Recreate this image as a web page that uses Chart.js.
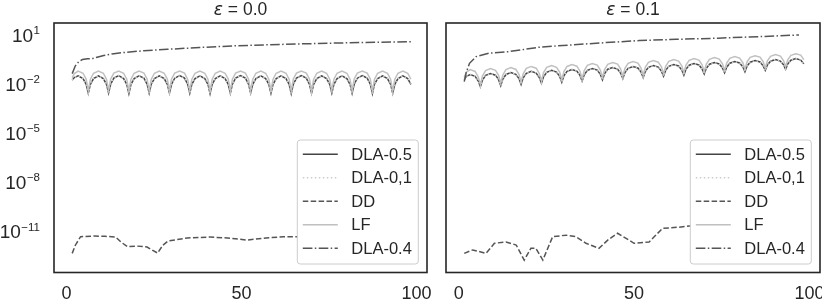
<!DOCTYPE html>
<html><head><meta charset="utf-8">
<script src="https://cdn.jsdelivr.net/npm/chart.js@4/dist/chart.umd.min.js"></script>
<style>
html,body{margin:0;padding:0;background:#fff;}
#wrap{position:relative;width:822px;height:300px;overflow:hidden;background:#fff;}
canvas{position:absolute;top:0;}
</style></head><body>
<div id="wrap">
<canvas id="c1" width="436" height="300" style="left:0;width:436px;height:300px"></canvas>
<canvas id="c2" width="386" height="300" style="left:436px;width:386px;height:300px"></canvas>
</div>
<script>
// ---------- data ----------
const seriesNames = ['DLA-0.5', 'DLA-0,1', 'DD', 'LF', 'DLA-0.4'];
const epsLabels = ['0.0', '0.1'];
const xTicks = [0, 50, 100];
const yTickExps = [1, -2, -5, -8, -11];

const xOsc = [1.6,2.2,3.3,4.7,5.6,
6.2,6.8,7.7,9.1,10.5,11.4,
12.0,12.6,13.5,14.9,16.3,17.2,
17.8,18.4,19.3,20.7,22.1,23.0,
23.6,24.2,25.1,26.5,27.9,28.8,
29.4,30.0,30.9,32.3,33.7,34.6,
35.2,35.8,36.7,38.1,39.5,40.4,
41.0,41.6,42.5,43.9,45.3,46.2,
46.8,47.4,48.3,49.7,51.1,52.0,
52.6,53.2,54.1,55.5,56.9,57.8,
58.4,59.0,59.9,61.3,62.7,63.6,
64.2,64.8,65.7,67.1,68.5,69.4,
70.0,70.6,71.5,72.9,74.3,75.2,
75.8,76.4,77.3,78.7,80.1,81.0,
81.6,82.2,83.1,84.5,85.9,86.8,
87.4,88.0,88.9,90.3,91.7,92.6,
93.2,93.8,94.7,96.1,97.5,98.4];

// eps = 0.0
const dla05L = [0.016,0.023,0.029,0.020,0.0089,
0.0025,0.0088,0.020,0.029,0.020,0.0089,
0.0026,0.0090,0.021,0.030,0.020,0.0088,
0.0024,0.0089,0.020,0.029,0.021,0.0090,
0.0025,0.0090,0.020,0.029,0.020,0.0089,
0.0026,0.0089,0.021,0.030,0.021,0.0090,
0.0025,0.0088,0.020,0.029,0.020,0.0088,
0.0024,0.0089,0.020,0.029,0.020,0.0089,
0.0025,0.0090,0.021,0.030,0.021,0.0090,
0.0026,0.0089,0.020,0.029,0.020,0.0088,
0.0025,0.0088,0.020,0.029,0.020,0.0089,
0.0024,0.0090,0.021,0.030,0.021,0.0090,
0.0025,0.0089,0.020,0.029,0.020,0.0089,
0.0026,0.0088,0.020,0.029,0.020,0.0088,
0.0025,0.0089,0.021,0.030,0.021,0.0090,
0.0024,0.0090,0.020,0.029,0.020,0.0089,
0.0025,0.0089,0.020,0.029,0.020,0.0089];
const dla01L = [0.016,0.023,0.029,0.020,0.0089,
0.0025,0.0088,0.020,0.029,0.020,0.0089,
0.0026,0.0090,0.021,0.030,0.020,0.0088,
0.0024,0.0089,0.020,0.029,0.021,0.0090,
0.0025,0.0090,0.020,0.029,0.020,0.0089,
0.0026,0.0089,0.021,0.030,0.021,0.0090,
0.0025,0.0088,0.020,0.029,0.020,0.0088,
0.0024,0.0089,0.020,0.029,0.020,0.0089,
0.0025,0.0090,0.021,0.030,0.021,0.0090,
0.0026,0.0089,0.020,0.029,0.020,0.0088,
0.0025,0.0088,0.020,0.029,0.020,0.0089,
0.0024,0.0090,0.021,0.030,0.021,0.0090,
0.0025,0.0089,0.020,0.029,0.020,0.0089,
0.0026,0.0088,0.020,0.029,0.020,0.0088,
0.0025,0.0089,0.021,0.030,0.021,0.0090,
0.0024,0.0090,0.020,0.029,0.020,0.0089,
0.0025,0.0089,0.020,0.029,0.020,0.0089];
const lfL = [0.022,0.040,0.057,0.042,0.018,
0.0036,0.018,0.042,0.057,0.042,0.018,
0.0037,0.019,0.043,0.058,0.042,0.018,
0.0035,0.018,0.042,0.057,0.043,0.019,
0.0036,0.018,0.042,0.057,0.042,0.018,
0.0037,0.019,0.043,0.058,0.043,0.018,
0.0036,0.018,0.042,0.057,0.042,0.018,
0.0035,0.018,0.042,0.057,0.042,0.019,
0.0036,0.019,0.043,0.058,0.043,0.018,
0.0037,0.018,0.042,0.057,0.042,0.018,
0.0036,0.018,0.042,0.057,0.042,0.018,
0.0035,0.019,0.043,0.058,0.043,0.019,
0.0036,0.018,0.042,0.057,0.042,0.018,
0.0037,0.018,0.042,0.057,0.042,0.018,
0.0036,0.019,0.043,0.058,0.043,0.019,
0.0035,0.018,0.042,0.057,0.042,0.018,
0.0036,0.018,0.042,0.057,0.042,0.018];
const xLa4L = [1.6,2.5,3.5,4.5,6.0,7.5,9.0,10.6,13.5,16.3,22.0,28.8,38.0,47.8,57.0,66.9,78.0,88.0,98.6];
const la4L  = [0.04,0.12,0.22,0.29,0.32,0.34,0.42,0.52,0.66,0.78,1.0,1.23,1.58,2.0,2.3,2.63,3.0,3.3,3.6];
const xDdL = [1.6,2.5,4.0,8.0,11.0,14.0,15.5,17.4,20.0,23.0,24.5,26.0,27.5,29.0,34.5,41.0,46.0,51.6,57.0,62.0,66.0,75.0,85.0,98.6];
const ddL  = [4.0e-13,1.26e-12,4.2e-12,4.6e-12,4.4e-12,4.0e-12,2.0e-12,1.02e-12,1.12e-12,9.8e-13,6.3e-13,4.2e-13,1.26e-12,2.3e-12,3.5e-12,4.0e-12,3.5e-12,2.6e-12,3.5e-12,4.2e-12,4.2e-12,4.0e-12,4.2e-12,4.0e-12];

// eps = 0.1
const dla05R = [0.017,0.027,0.035,0.027,0.014,
0.0063,0.016,0.031,0.041,0.032,0.017,
0.0074,0.0186,0.0355,0.047,0.036,0.020,
0.0087,0.0219,0.0417,0.055,0.043,0.023,
0.0102,0.0254,0.0479,0.063,0.049,0.027,
0.012,0.0295,0.055,0.072,0.057,0.031,
0.014,0.0343,0.0638,0.083,0.066,0.036,
0.0166,0.0398,0.074,0.095,0.076,0.042,
0.020,0.0468,0.085,0.11,0.088,0.049,
0.023,0.0543,0.0977,0.126,0.10,0.057,
0.0275,0.063,0.112,0.145,0.117,0.066,
0.032,0.0733,0.130,0.166,0.135,0.077,
0.038,0.085,0.150,0.19,0.155,0.089,
0.045,0.099,0.172,0.22,0.178,0.104,
0.052,0.115,0.20,0.25,0.205,0.12,
0.063,0.135,0.229,0.29,0.235,0.14,
0.074,0.157,0.263,0.33,0.27,0.16];
const dla01R = [0.017,0.027,0.035,0.027,0.014,
0.0063,0.016,0.031,0.041,0.032,0.017,
0.0074,0.0186,0.0355,0.047,0.036,0.020,
0.0087,0.0219,0.0417,0.055,0.043,0.023,
0.0102,0.0254,0.0479,0.063,0.049,0.027,
0.012,0.0295,0.055,0.072,0.057,0.031,
0.014,0.0343,0.0638,0.083,0.066,0.036,
0.0166,0.0398,0.074,0.095,0.076,0.042,
0.020,0.0468,0.085,0.11,0.088,0.049,
0.023,0.0543,0.0977,0.126,0.10,0.057,
0.0275,0.063,0.112,0.145,0.117,0.066,
0.032,0.0733,0.130,0.166,0.135,0.077,
0.038,0.085,0.150,0.19,0.155,0.089,
0.045,0.099,0.172,0.22,0.178,0.104,
0.052,0.115,0.20,0.25,0.205,0.12,
0.063,0.135,0.229,0.29,0.235,0.14,
0.074,0.157,0.263,0.33,0.27,0.16];
const lfR = [0.024,0.05,0.07,0.054,0.025,
0.0088,0.029,0.062,0.082,0.064,0.031,
0.0104,0.033,0.071,0.094,0.072,0.036,
0.0122,0.039,0.083,0.11,0.086,0.041,
0.0143,0.046,0.096,0.126,0.098,0.049,
0.0168,0.053,0.11,0.144,0.114,0.056,
0.0196,0.062,0.128,0.166,0.132,0.065,
0.0232,0.072,0.148,0.19,0.152,0.076,
0.028,0.084,0.17,0.22,0.176,0.088,
0.032,0.098,0.195,0.252,0.20,0.103,
0.0385,0.113,0.224,0.29,0.234,0.119,
0.045,0.132,0.26,0.332,0.27,0.139,
0.053,0.153,0.30,0.38,0.31,0.16,
0.063,0.178,0.344,0.44,0.356,0.187,
0.073,0.207,0.40,0.50,0.41,0.216,
0.088,0.243,0.458,0.58,0.47,0.252,
0.104,0.283,0.526,0.66,0.54,0.288];
const xLa4R = [1.6,2.2,3.1,5.0,8.7,14.4,23.0,32.4,42.0,51.5,62.0,74.0,86.0,97.0];
const la4R  = [0.013,0.05,0.17,0.44,0.71,0.89,1.66,2.3,3.16,4.2,5.0,5.9,7.4,9.3];
const xDdR = [1.6,4.0,7.8,10.2,13.5,16.4,18.7,20.6,22.0,24.0,26.8,30.6,33.4,36.3,40.0,42.5,45.3,50.0,54.3,58.1,62.9,65.7,75.0,85.0,98.6];
const ddR  = [4.0e-13,6.5e-13,4.0e-13,1.66e-12,2.0e-12,1.3e-12,1.55e-13,8.1e-13,8.1e-13,1.55e-13,4.2e-12,5.2e-12,4.2e-12,1.66e-12,8.1e-13,2.6e-12,6.8e-12,1.66e-12,2.0e-12,1.35e-11,1.6e-11,1.9e-11,2.0e-11,2.2e-11,2.4e-11];

// ---------- styles ----------
const TXT = '#262626';
const FONT_T = '"Liberation Sans", Arial, sans-serif';
const FONT_M = '"DejaVu Sans", sans-serif';
const styles = [
  {color:'#444444', dash:[], width:1.5},
  {color:'#cccccc', dash:[1.5,2.5], width:1.5},
  {color:'#555555', dash:[5.5,2.4], width:1.5},
  {color:'#c0c0c0', dash:[], width:1.5},
  {color:'#555555', dash:[9.6,2.4,1.5,2.4], width:1.5}
];

function pts(xs, ys){ return xs.map((x,i)=>({x:x, y:ys[i]})); }

function makeDatasets(sets){
  return sets.map((d,i)=>({
    label: seriesNames[i],
    data: d,
    borderColor: styles[i].color,
    borderDash: styles[i].dash,
    borderWidth: styles[i].width,
    pointRadius: 0,
    fill: false,
    tension: 0,
    order: 5 - i
  }));
}

const decoPlugin = {
  id: 'deco',
  afterDraw(chart, args, opts){
    const ctx = chart.ctx, a = chart.chartArea;
    const xs = chart.scales.x, ys = chart.scales.y;
    ctx.save();
    // frame
    ctx.strokeStyle = TXT; ctx.lineWidth = 1.6; ctx.setLineDash([]);
    ctx.strokeRect(a.left, a.top, a.right - a.left, a.bottom - a.top);
    // title
    const cx = (a.left + a.right) / 2;
    ctx.fillStyle = TXT; ctx.textBaseline = 'alphabetic';
    ctx.font = 'italic 17px ' + FONT_M;
    const w1 = ctx.measureText('ε').width;
    ctx.font = '17.5px ' + FONT_T;
    const rest = ' = ' + opts.eps;
    const w2 = ctx.measureText(rest).width;
    const sx = cx - (w1 + w2) / 2;
    ctx.font = 'italic 17px ' + FONT_M; ctx.textAlign = 'left';
    ctx.fillText('ε', sx, 15);
    ctx.font = '17.5px ' + FONT_T;
    ctx.fillText(rest, sx + w1, 15);
    // x tick labels
    ctx.textAlign = 'center'; ctx.font = '18px ' + FONT_T;
    xTicks.forEach(v => ctx.fillText(String(v), xs.getPixelForValue(v), 299));
    // y tick labels
    if (opts.yLabels) {
      yTickExps.forEach(e => {
        const y = ys.getPixelForValue(Math.pow(10, e));
        const expTxt = (e < 0 ? '\u2212' : '') + Math.abs(e);
        ctx.font = '11.5px ' + FONT_T; ctx.textAlign = 'right';
        const we = ctx.measureText(expTxt).width;
        ctx.fillText(expTxt, 40, y);
        ctx.font = '19px ' + FONT_T;
        ctx.fillText('10', 40 - we - 0.5, y + 7.6);
      });
    }
    // legend
    const lw = 121, lh = 124;
    const lx = a.right - 8.7 - lw, ly = a.bottom - 8.5 - lh;
    ctx.beginPath();
    ctx.roundRect(lx, ly, lw, lh, 3);
    ctx.fillStyle = '#ffffff'; ctx.fill();
    ctx.strokeStyle = '#cccccc'; ctx.lineWidth = 1; ctx.stroke();
    seriesNames.forEach((n, i) => {
      const yy = ly + 14.3 + i * 23.5;
      ctx.beginPath();
      ctx.strokeStyle = styles[i].color; ctx.lineWidth = styles[i].width;
      ctx.setLineDash(styles[i].dash);
      ctx.moveTo(lx + 5.5, yy); ctx.lineTo(lx + 40.5, yy); ctx.stroke();
      ctx.setLineDash([]);
      ctx.fillStyle = TXT; ctx.font = '16.5px ' + FONT_T;
      ctx.textAlign = 'left'; ctx.textBaseline = 'middle';
      ctx.fillText(n, lx + 54, yy + 1);
    });
    ctx.restore();
  }
};

function makeChart(id, sets, pad, eps, yLabels){
  return new Chart(document.getElementById(id), {
    type: 'line',
    data: { datasets: makeDatasets(sets) },
    options: {
      responsive: false, animation: false, devicePixelRatio: 1,
      layout: { padding: pad },
      plugins: { legend: {display:false}, tooltip: {enabled:false}, title: {display:false},
                 deco: { eps: eps, yLabels: yLabels } },
      scales: {
        x: { type:'linear', min:-3.6, max:103, display:false },
        y: { type:'logarithmic', min:2.7e-14, max:50, display:false }
      }
    },
    plugins: [decoPlugin]
  });
}

makeChart('c1', [pts(xOsc, dla05L), pts(xOsc, dla01L), pts(xDdL, ddL), pts(xOsc, lfL), pts(xLa4L, la4L)],
  {left:54, right:9, top:23, bottom:27.5}, epsLabels[0], true);
makeChart('c2', [pts(xOsc, dla05R), pts(xOsc, dla01R), pts(xDdR, ddR), pts(xOsc, lfR), pts(xLa4R, la4R)],
  {left:10, right:2, top:23, bottom:27.5}, epsLabels[1], false);
</script>
</body></html>
